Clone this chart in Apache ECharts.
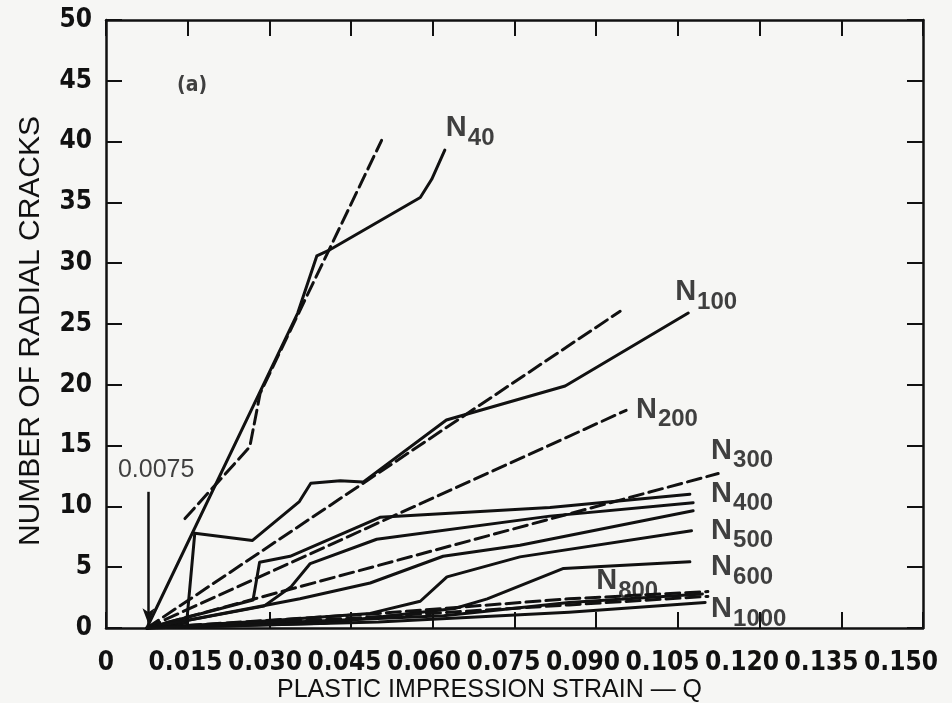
<!DOCTYPE html>
<html>
<head>
<meta charset="utf-8">
<script src="https://cdn.jsdelivr.net/npm/echarts@6/dist/echarts.min.js"></script>
<style>
  html, body { margin: 0; padding: 0; background: #f6f6f4; }
  #chart { width: 952px; height: 703px; }
</style>
</head>
<body>
<div id="chart"></div>
<script>
// tick labels
const xTickLabels = ['0', '0.015', '0.030', '0.045', '0.060', '0.075', '0.090', '0.105', '0.120', '0.135', '0.150'];
const yTickLabels = ['0', '5', '10', '15', '20', '25', '30', '35', '40', '45', '50'];

// curves, [strain Q, number of radial cracks]
const n40Solid = [[0.0075, 0], [0.0352, 25.9], [0.0387, 30.6], [0.0411, 31.1], [0.0577, 35.4], [0.0598, 36.9], [0.0622, 39.3]];
const n40Dashed = [[0.0145, 9.0], [0.0264, 14.9], [0.0283, 19.3], [0.0506, 40.1]];
const n100Solid = [[0.0075, 0], [0.0148, 0.4], [0.0163, 7.8], [0.0269, 7.2], [0.0355, 10.4], [0.0376, 11.9], [0.0430, 12.1], [0.0472, 12.0], [0.0625, 17.1], [0.0843, 19.9], [0.1069, 25.9]];
const n100Dashed = [[0.0075, 0], [0.0944, 26.05]];
const n200Dashed = [[0.0075, 0], [0.0955, 17.9]];
const n300Dashed = [[0.0075, 0], [0.1124, 12.7]];
const lineA = [[0.0075, 0], [0.0270, 2.3], [0.0282, 5.4], [0.0338, 5.9], [0.0503, 9.1], [0.0815, 9.9], [0.1072, 11.0]];
const lineB = [[0.0075, 0], [0.0290, 1.8], [0.0340, 3.4], [0.0375, 5.3], [0.0497, 7.3], [0.0815, 9.2], [0.1078, 10.3]];
const lineC = [[0.0075, 0], [0.0356, 2.4], [0.0485, 3.7], [0.0619, 5.9], [0.0760, 6.8], [0.1078, 9.64]];
const lineD = [[0.0075, 0], [0.0300, 0.6], [0.0485, 1.2], [0.0577, 2.2], [0.0626, 4.2], [0.0760, 5.85], [0.1075, 8.0]];
const lineE = [[0.0075, 0], [0.0400, 0.4], [0.0640, 1.6], [0.0700, 2.4], [0.0840, 4.9], [0.1072, 5.45]];
const n800Dashed = [[0.0075, 0], [0.0500, 1.2], [0.0850, 2.4], [0.1105, 3.0]];
const n800Solid = [[0.0075, 0], [0.0400, 0.6], [0.0620, 1.0], [0.0850, 2.1], [0.1095, 2.8]];
const n1000Dashed = [[0.0075, 0], [0.0450, 0.8], [0.0850, 1.9], [0.1105, 2.6]];
const n1000Solid = [[0.0075, 0], [0.0500, 0.5], [0.0850, 1.3], [0.1100, 2.1]];

// curve names with subscripts, anchored at the left edge / middle of the "N"
const curveLabels = [
  ['40', 0.0624, 41.1], ['100', 0.1045, 27.6], ['200', 0.0973, 17.96], ['300', 0.1111, 14.58],
  ['400', 0.1111, 11.04], ['500', 0.1111, 7.99], ['600', 0.1111, 5.02], ['800', 0.0900, 3.87], ['1000', 0.1111, 1.57]
];
const arrowFrom = [0.0078, 11.2];
const arrowTo = [0.0078, 0.3];

const INK = '#111';
const FONT = "'Liberation Sans Narrow', 'DejaVu Sans Condensed', 'Liberation Sans', Arial, sans-serif";
const PLAIN = "'Liberation Sans', Arial, sans-serif";

const chart = echarts.init(document.getElementById('chart'));

function curve(data, dashed) {
  return {
    type: 'line', data: data, symbol: 'none', silent: true, animation: false,
    xAxisIndex: 0, yAxisIndex: 0, z: 3,
    lineStyle: { color: INK, width: 3, type: dashed ? [14, 6] : 'solid', cap: 'round', join: 'round' }
  };
}

function xLabel(v) {
  const k = Math.round(v / 0.015);
  if (Math.abs(v - k * 0.015) > 1e-6) return '';
  return xTickLabels[k] || '';
}

const frameAxis = {
  min: 0,
  axisLine: { show: true, onZero: false, lineStyle: { color: INK, width: 2.5 } },
  axisTick: { show: true, inside: true, length: 16, lineStyle: { color: INK, width: 2 } },
  splitLine: { show: false }
};

const option = {
  backgroundColor: '#f6f6f4',
  animation: false,
  grid: { left: 106, right: 29, top: 20, bottom: 75, containLabel: false, outerBoundsMode: 'none' },
  xAxis: [
    Object.assign({}, frameAxis, {
      type: 'value', position: 'bottom', max: 0.15, interval: 0.015,
      axisLabel: { show: false },
      name: 'PLASTIC IMPRESSION STRAIN \u2014 Q', nameLocation: 'middle', nameGap: 50,
      nameTextStyle: { color: INK, fontSize: 25, fontFamily: PLAIN, padding: [0, 50, 0, 0] }
    }),
    Object.assign({}, frameAxis, {
      type: 'value', position: 'top', max: 0.15, interval: 0.015, axisLabel: { show: false }
    }),
    {
      type: 'value', position: 'bottom', min: 0, max: 0.15415, interval: 0.015,
      axisLine: { show: false, onZero: false }, axisTick: { show: false }, splitLine: { show: false },
      axisLabel: { show: true, margin: 22, color: INK, fontSize: 26, fontWeight: 'bold', fontFamily: FONT, formatter: xLabel }
    }
  ],
  yAxis: [
    Object.assign({}, frameAxis, {
      type: 'value', position: 'left', max: 50, interval: 5,
      axisLabel: { show: true, margin: 14, color: INK, fontSize: 26, fontWeight: 'bold', fontFamily: FONT,
        formatter: v => yTickLabels[Math.round(v / 5)] },
      name: 'NUMBER OF RADIAL CRACKS', nameLocation: 'middle', nameGap: 60, nameRotate: 90,
      nameTextStyle: { color: INK, fontSize: 30, fontFamily: PLAIN, padding: [0, 14, 0, 0] }
    }),
    Object.assign({}, frameAxis, {
      type: 'value', position: 'right', max: 50, interval: 5, axisLabel: { show: false }
    })
  ],
  series: [
    curve(n40Solid, false), curve(n40Dashed, true),
    curve(n100Solid, false), curve(n100Dashed, true),
    curve(n200Dashed, true), curve(n300Dashed, true),
    curve(lineA, false), curve(lineB, false), curve(lineC, false), curve(lineD, false), curve(lineE, false),
    curve(n800Dashed, true), curve(n800Solid, false), curve(n1000Dashed, true), curve(n1000Solid, false),
    {
      type: 'scatter', silent: true, symbolSize: 0, z: 5,
      data: curveLabels.map(c => ({ value: [c[1], c[2]], sub: c[0] })),
      label: {
        show: true, position: 'right', distance: 0, color: INK,
        formatter: p => '{n|N}{s|' + p.data.sub + '}',
        rich: {
          n: { fontSize: 29, fontFamily: PLAIN, fontWeight: 'bold', color: INK, lineHeight: 28, padding: [0, 1, 0, 0] },
          s: { fontSize: 24, fontFamily: PLAIN, fontWeight: 'bold', color: INK, lineHeight: 22, padding: [20, 0, 0, 0] }
        }
      }
    },
    {
      type: 'scatter', silent: true, symbolSize: 0, z: 5,
      data: [
        { value: [0.0158, 44.6], label: { formatter: '(a)', fontSize: 21, fontWeight: 'bold', fontFamily: FONT } },
        { value: [0.0092, 13.0], label: { formatter: '0.0075', fontSize: 25, fontFamily: PLAIN } }
      ],
      label: { show: true, position: 'inside', color: INK }
    },
    {
      type: 'line', data: [], silent: true,
      markLine: {
        silent: true, symbol: ['none', 'arrow'], symbolSize: [9, 16], label: { show: false },
        lineStyle: { color: INK, width: 2.5, type: 'solid' },
        data: [[{ coord: arrowFrom }, { coord: arrowTo }]]
      }
    }
  ]
};

chart.setOption(option);
</script>
</body>
</html>
